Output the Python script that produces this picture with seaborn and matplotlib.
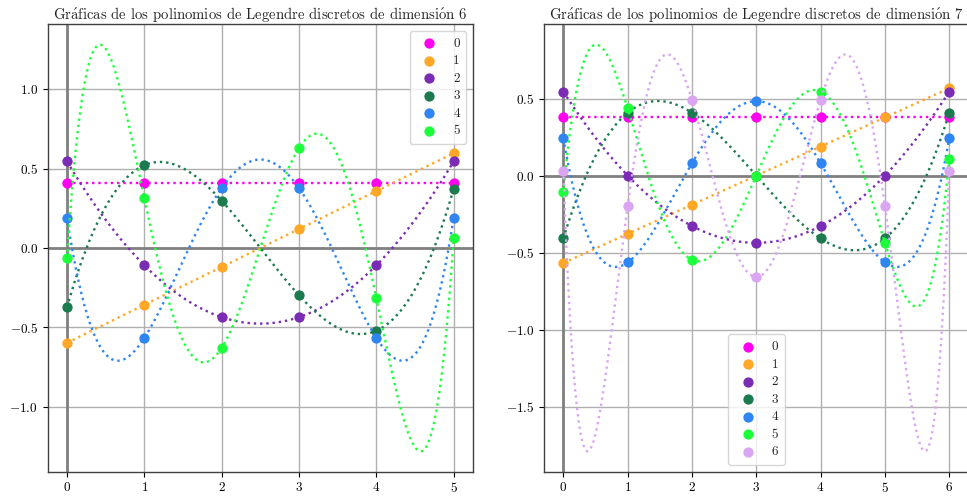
import numpy as np
import matplotlib
matplotlib.use("Agg")
import matplotlib.pyplot as plt
import seaborn as sns

sns.set_style("ticks")
plt.rcParams.update({
    "font.family": ["cmr10", "DejaVu Serif"],
    "mathtext.fontset": "cm",
    "axes.formatter.use_mathtext": True,
    "axes.unicode_minus": True,
    "axes.edgecolor": "#404040",
    "axes.linewidth": 1.0,
    "xtick.color": "black",
    "ytick.color": "black",
    "xtick.direction": "out",
    "ytick.direction": "out",
    "xtick.major.size": 3.5,
    "ytick.major.size": 3.5,
})

colors = ["#ff00f0", "#ffa726", "#7b2cb5", "#1b7a4e", "#2f86f2", "#1eff3c", "#daa6f2"]

# Values of the discrete Legendre polynomials, dimension 6 (points 0..5)
x6 = [0, 1, 2, 3, 4, 5]
p6_0 = [0.408, 0.408, 0.408, 0.408, 0.408, 0.408]
p6_1 = [-0.598, -0.359, -0.120, 0.120, 0.359, 0.598]
p6_2 = [0.546, -0.109, -0.436, -0.436, -0.109, 0.546]
p6_3 = [-0.373, 0.522, 0.298, -0.298, -0.522, 0.373]
p6_4 = [0.189, -0.567, 0.378, 0.378, -0.567, 0.189]
p6_5 = [-0.063, 0.315, -0.630, 0.630, -0.315, 0.063]

# Dimension 7 (points 0..6)
x7 = [0, 1, 2, 3, 4, 5, 6]
p7_0 = [0.378, 0.378, 0.378, 0.378, 0.378, 0.378, 0.378]
p7_1 = [-0.567, -0.378, -0.189, 0.0, 0.189, 0.378, 0.567]
p7_2 = [0.546, 0.0, -0.327, -0.436, -0.327, 0.0, 0.546]
p7_3 = [-0.408, 0.408, 0.408, 0.0, -0.408, -0.408, 0.408]
p7_4 = [0.242, -0.564, 0.081, 0.483, 0.081, -0.564, 0.242]
p7_5 = [-0.109, 0.436, -0.546, 0.0, 0.546, -0.436, 0.109]
p7_6 = [0.033, -0.197, 0.493, -0.658, 0.493, -0.197, 0.033]

panels = [
    (x6, [p6_0, p6_1, p6_2, p6_3, p6_4, p6_5], 6),
    (x7, [p7_0, p7_1, p7_2, p7_3, p7_4, p7_5, p7_6], 7),
]

# accented letters composed in Computer Modern
title_tpl = r"Gr$\acute{\rm a}$ficas de los polinomios de Legendre discretos de dimensi$\acute{\rm o}$n {dim}"

fig = plt.figure(figsize=(9.67, 4.98), dpi=100)
ax_left = fig.add_axes([0.0493, 0.053, 0.4398, 0.898])
ax_right = fig.add_axes([0.5626, 0.053, 0.439, 0.898])

for ax, (xs, series, dim) in zip([ax_left, ax_right], panels):
    ax.grid(True, color="#b0b0b0", linewidth=1.0)
    ax.set_axisbelow(True)
    ax.axhline(0, color="#808080", linewidth=2.0, zorder=1.2)
    ax.axvline(0, color="#808080", linewidth=2.0, zorder=1.2)
    xfine = np.linspace(xs[0], xs[-1], 400)
    for k, vals in enumerate(series):
        # polynomial of degree k through the sampled values
        coef = np.polyfit(xs, vals, k)
        sns.lineplot(x=xfine, y=np.polyval(coef, xfine), ax=ax, color=colors[k],
                     linestyle=":", linewidth=1.7, zorder=2)
        sns.scatterplot(x=xs, y=vals, ax=ax, color=colors[k], s=55,
                        linewidth=0, label=str(k), zorder=2)
    ax.set_title(title_tpl.replace("{dim}", str(dim)), fontsize=10.6, pad=4)
    ax.tick_params(labelsize=9.5)
    ax.set_xticks(xs)

ax_left.legend(loc="upper right", fontsize=9.5, handletextpad=0.8,
               borderpad=0.5, labelspacing=0.4)
ax_right.legend(loc="lower center", fontsize=9.5, handletextpad=0.8,
                borderpad=0.5, labelspacing=0.4)

fig.savefig("out.png", dpi=100)
